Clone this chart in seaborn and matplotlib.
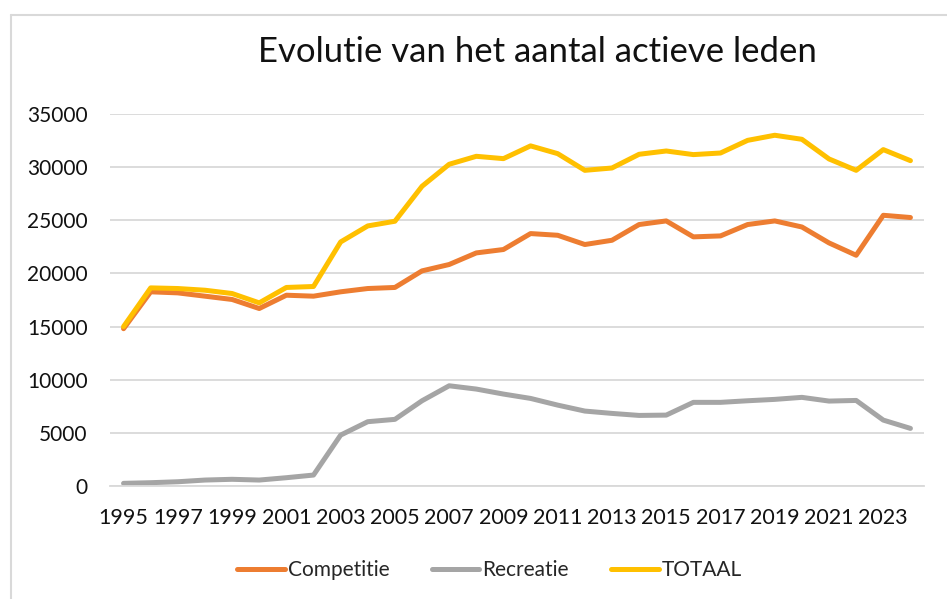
import matplotlib
matplotlib.use("Agg")
import matplotlib.pyplot as plt
import seaborn as sns
import numpy as np
import pandas as pd
from matplotlib.lines import Line2D

# data
years = list(range(1995, 2025))
competitie = [14800, 18270, 18170, 17860, 17550, 16700, 17950, 17860, 18270, 18580,
              18680, 20240, 20840, 21930, 22250, 23750, 23590, 22720, 23120, 24600,
              24940, 23440, 23530, 24600, 24940, 24370, 22870, 21710, 25470, 25260]
recreatie = [250, 310, 400, 560, 630, 560, 780, 1030, 4790, 6050,
             6270, 8020, 9430, 9120, 8650, 8240, 7610, 7050, 6830, 6640,
             6670, 7870, 7870, 8020, 8150, 8340, 7990, 8050, 6200, 5420]
totaal = [15000, 18640, 18580, 18420, 18110, 17230, 18680, 18770, 22960, 24470,
          24910, 28200, 30270, 31020, 30800, 32000, 31270, 29700, 29920, 31210,
          31520, 31180, 31330, 32520, 33000, 32620, 30770, 29700, 31650, 30610]
series_names = ["Competitie", "Recreatie", "TOTAAL"]
colors = ["#ED7D31", "#A5A5A5", "#FFC000"]

df = pd.DataFrame({"jaar": years, "Competitie": competitie,
                   "Recreatie": recreatie, "TOTAAL": totaal})
long_df = df.melt(id_vars="jaar", var_name="reeks", value_name="leden")

sns.set_style("white")
plt.rcParams["font.family"] = ["Lato", "DejaVu Sans"]

fig = plt.figure(figsize=(9.47, 5.99), dpi=100)
ax = fig.add_axes([110 / 947, 1 - 486 / 599, (924 - 110) / 947, (486 - 114) / 599])

sns.lineplot(data=long_df, x="jaar", y="leden", hue="reeks", hue_order=series_names,
             palette=colors, linewidth=3.6, ax=ax, legend=False,
             solid_capstyle="round", solid_joinstyle="round")

ax.set_xlim(years[0] - 0.5, years[-1] + 0.5)
ax.set_ylim(0, 35000)
ax.set_yticks(range(0, 35001, 5000))
ax.set_xticks(years[::2])
ax.set_xticks(np.arange(years[0] - 0.5, years[-1] + 1), minor=True)
ax.grid(axis="y", color="#D9D9D9", linewidth=1.3)
ax.set_axisbelow(True)
for s in ["left", "right", "top"]:
    ax.spines[s].set_visible(False)
ax.spines["bottom"].set_color("#D9D9D9")
ax.spines["bottom"].set_linewidth(1.3)
ax.tick_params(axis="x", which="major", length=0, pad=16, labelsize=15.5, labelcolor="#111111")
ax.tick_params(axis="x", which="minor", length=5, width=1.3, color="#D9D9D9", direction="out")
ax.tick_params(axis="y", length=0, pad=16, labelsize=15, labelcolor="#111111")
ax.set_xlabel("")
ax.set_ylabel("")

fig.text(0.568, 0.913, "Evolutie van het aantal actieve leden", ha="center", va="center",
         fontsize=25, color="#111111")

handles = [Line2D([0], [0], color=c, linewidth=3.6, solid_capstyle="round") for c in colors]
fig.legend(handles, series_names, loc="center", bbox_to_anchor=(0.517, 0.048), ncol=3,
           frameon=False, fontsize=15, handlelength=2.3, handletextpad=0.15, columnspacing=2.0)

# chart frame
fig.add_artist(Line2D([10.5 / 947, 10.5 / 947], [0, 1 - 15 / 599], color="#D9D9D9", linewidth=1.5))
fig.add_artist(Line2D([10.5 / 947, 1], [1 - 15 / 599, 1 - 15 / 599], color="#D9D9D9", linewidth=1.5))

fig.savefig("out.png", dpi=100, facecolor="white")
